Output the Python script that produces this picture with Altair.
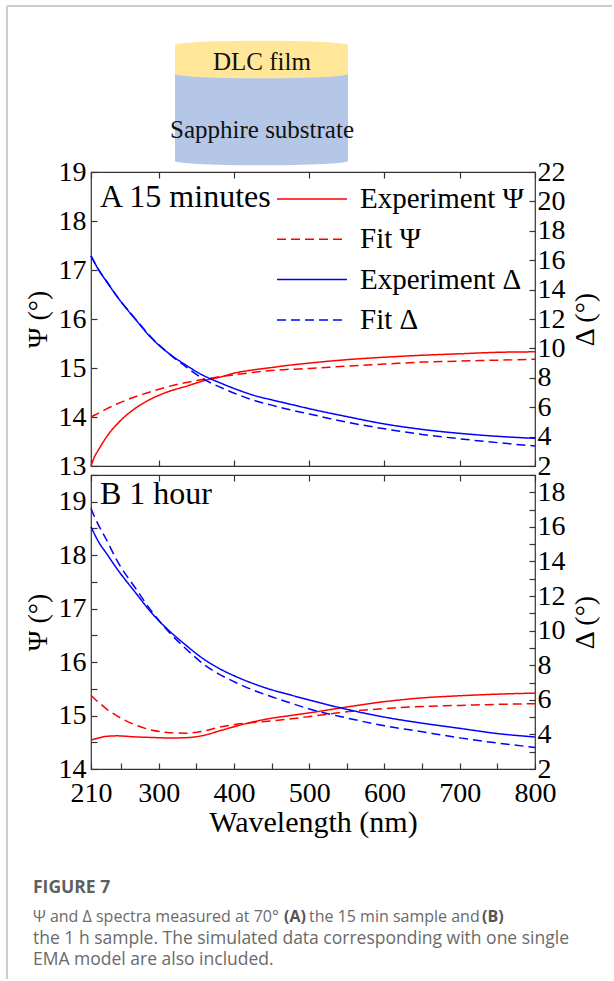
import altair as alt
import pandas as pd

# ---------------- data ----------------
WL = [210, 215, 220, 230, 245, 270, 290, 315, 335, 360, 380, 405, 425, 450,
      470, 500, 550, 600, 650, 700, 750, 800]

A_EXP_PSI = [13.00, 13.20, 13.33, 13.58, 13.86, 14.19, 14.37, 14.53, 14.62, 14.74, 14.81,
             14.91, 14.96, 15.01, 15.05, 15.10, 15.17, 15.22, 15.26, 15.29, 15.32, 15.33]
A_FIT_PSI = [14.00, 14.04, 14.08, 14.16, 14.27, 14.42, 14.52, 14.63, 14.70, 14.77, 14.82,
             14.87, 14.91, 14.95, 14.97, 14.99, 15.04, 15.08, 15.12, 15.14, 15.16, 15.18]
A_EXP_DELTA = [16.30, 15.81, 15.35, 14.60, 13.50, 11.92, 10.72, 9.60, 8.90, 8.14, 7.69,
               7.18, 6.83, 6.50, 6.26, 5.90, 5.36, 4.86, 4.49, 4.22, 4.02, 3.88]
A_FIT_DELTA = [16.30, 15.82, 15.37, 14.62, 13.52, 11.94, 10.76, 9.58, 8.80, 7.90, 7.40,
               6.86, 6.49, 6.14, 5.88, 5.54, 4.98, 4.53, 4.15, 3.85, 3.59, 3.36]

B_EXP_PSI = [14.54, 14.56, 14.58, 14.61, 14.62, 14.60, 14.59, 14.58, 14.585, 14.63, 14.71,
             14.81, 14.88, 14.95, 14.99, 15.05, 15.16, 15.26, 15.33, 15.37, 15.40, 15.42]
B_FIT_PSI = [15.38, 15.31, 15.25, 15.13, 14.99, 14.82, 14.73, 14.68, 14.67, 14.71, 14.78,
             14.84, 14.87, 14.90, 14.93, 14.98, 15.07, 15.13, 15.17, 15.19, 15.21, 15.22]
B_EXP_DELTA = [16.00, 15.55, 15.14, 14.50, 13.55, 12.15, 11.05, 9.95, 9.20, 8.35, 7.82,
               7.30, 6.95, 6.58, 6.34, 5.99, 5.45, 5.00, 4.65, 4.35, 4.05, 3.85]
B_FIT_DELTA = [17.07, 16.55, 16.10, 15.30, 14.02, 12.40, 11.15, 9.85, 9.00, 8.05, 7.49,
               6.95, 6.57, 6.18, 5.89, 5.47, 4.95, 4.50, 4.15, 3.80, 3.50, 3.25]

SERIES = ["Experiment Ψ", "Fit Ψ", "Experiment Δ", "Fit Δ"]
SERIES_QTY = ["psi", "psi", "delta", "delta"]
SERIES_COLORS = ["#ff0000", "#ff0000", "#0000ff", "#0000ff"]
SERIES_DASHES = [[1, 0], [9, 5], [1, 0], [9, 5]]

X_DOMAIN = [210, 800]
X_LABELS = [210, 300, 400, 500, 600, 700, 800]
X_TICKS_B = [210, 250, 300, 350, 400, 450, 500, 550, 600, 650, 700, 750, 800]

A_PSI_DOMAIN = [13, 19]
A_PSI_LABELS = [13, 14, 15, 16, 17, 18, 19]
A_DELTA_DOMAIN = [2, 22]
A_DELTA_LABELS = [2, 4, 6, 8, 10, 12, 14, 16, 18, 20, 22]

B_PSI_DOMAIN = [14, 19.5]
B_PSI_LABELS = [14, 15, 16, 17, 18, 19]
B_PSI_TICKS = [14, 14.5, 15, 15.5, 16, 16.5, 17, 17.5, 18, 18.5, 19, 19.5]
B_DELTA_DOMAIN = [2, 19]
B_DELTA_LABELS = [2, 4, 6, 8, 10, 12, 14, 16, 18]
B_DELTA_TICKS = [2, 3, 4, 5, 6, 7, 8, 9, 10, 11, 12, 13, 14, 15, 16, 17, 18, 19]

PANEL_LABELS = ["A 15 minutes", "B 1 hour"]
LAYER_NAMES = ["DLC film", "Sapphire substrate"]

CAPTION_TITLE = "FIGURE 7"
CAPTION_LINE1 = ["Ψ and Δ spectra measured at 70°", "(A)", "the 15 min sample and", "(B)"]
CAPTION_LINE1_BOLD = [False, True, False, True]
CAPTION_LINES = ["the 1 h sample. The simulated data corresponding with one single",
                 "EMA model are also included."]

SERIF = "Liberation Serif"
SANS = "Open Sans"
PW, PH = 444, 294
AXC = "#333333"


def long_df(series_values):
    rows = []
    for name, qty, vals in zip(SERIES, SERIES_QTY, series_values):
        for w, v in zip(WL, vals):
            rows.append({"nm": w, "value": v, "series": name, "qty": qty})
    return pd.DataFrame(rows)


def tick_axis(orient, values, offset):
    return alt.Axis(orient=orient, offset=offset, values=values, labels=False,
                    domain=False, grid=False, ticks=True, tickSize=6,
                    tickColor=AXC, tickWidth=1.2, title=None)


def make_panel(series_values, psi_dom, psi_labels, psi_ticks, d_dom, d_labels,
               d_ticks, x_bottom_ticks, label, label_y, show_legend, show_x):
    df = long_df(series_values)
    psi = df[df["qty"] == "psi"]
    dl = df[df["qty"] == "delta"]
    xs = alt.Scale(domain=X_DOMAIN, nice=False, zero=False)

    if show_legend:
        leg = alt.Legend(orient="none", legendX=185, legendY=9, title=None,
                         symbolType="stroke", symbolSize=4900, symbolStrokeWidth=1.5,
                         labelFont=SERIF, labelFontSize=29, labelColor="black",
                         labelLimit=400, labelOffset=12, clipHeight=36,
                         rowPadding=4.3, padding=0, labelBaseline="middle",
                         direction="vertical")
    else:
        leg = None
    color = alt.Color("series:N", scale=alt.Scale(domain=SERIES, range=SERIES_COLORS),
                      legend=leg)
    dash = alt.StrokeDash("series:N", scale=alt.Scale(domain=SERIES, range=SERIES_DASHES),
                          legend=leg)

    if show_x:
        x_lab = alt.Axis(orient="bottom", values=X_LABELS, ticks=False, tickSize=0,
                         domain=False, grid=False, labelPadding=10, labelFlush=False,
                         labelOverlap=False, title="Wavelength (nm)", titleFontSize=30,
                         titlePadding=0, labelFont=SERIF, labelFontSize=28,
                         titleFont=SERIF, titleFontWeight="normal")
    else:
        x_lab = None

    psi_axis = alt.Axis(orient="left", values=psi_labels, ticks=False, tickSize=0,
                        domain=False, grid=False, labelPadding=5, labelFlush=False,
                        labelOverlap=False, title="Ψ (°)", titleAngle=270,
                        titleBaseline="bottom", titlePadding=6, labelFont=SERIF,
                        labelFontSize=28, titleFont=SERIF, titleFontSize=28,
                        titleFontWeight="normal")
    d_axis = alt.Axis(orient="right", values=d_labels, ticks=False, tickSize=0,
                      domain=False, grid=False, labelPadding=2, labelFlush=False,
                      labelOverlap=False, title="Δ (°)", titleAngle=270,
                      titleBaseline="top", titlePadding=6, labelFont=SERIF,
                      labelFontSize=28, titleFont=SERIF, titleFontSize=28,
                      titleFontWeight="normal")

    psi_scale = alt.Scale(domain=psi_dom, nice=False, zero=False)
    d_scale = alt.Scale(domain=d_dom, nice=False, zero=False)

    l_psi = alt.Chart(psi).mark_line(strokeWidth=1.5, interpolate="monotone").encode(
        x=alt.X("nm:Q", scale=xs, axis=x_lab),
        y=alt.Y("value:Q", scale=psi_scale, axis=psi_axis),
        color=color, strokeDash=dash)
    l_d = alt.Chart(dl).mark_line(strokeWidth=1.5, interpolate="monotone").encode(
        x=alt.X("nm:Q", scale=xs, axis=tick_axis("bottom", X_LABELS, -PH)),
        y=alt.Y("value:Q", scale=d_scale, axis=d_axis),
        color=color, strokeDash=dash)
    t_psi = alt.Chart(psi).mark_point(opacity=0, size=1).encode(
        x=alt.X("nm:Q", scale=xs, axis=tick_axis("top", x_bottom_ticks, -PH)),
        y=alt.Y("value:Q", scale=psi_scale, axis=tick_axis("right", psi_ticks, -PW)))
    t_d = alt.Chart(dl).mark_point(opacity=0, size=1).encode(
        x=alt.X("nm:Q", scale=xs, axis=None),
        y=alt.Y("value:Q", scale=d_scale, axis=tick_axis("left", d_ticks, -PW)))
    txt = alt.Chart(pd.DataFrame({"label": [label]})).mark_text(
        align="left", baseline="alphabetic", font=SERIF, fontSize=32, color="black"
    ).encode(x=alt.value(9), y=alt.value(label_y), text="label:N")

    return alt.layer(l_psi, l_d, t_psi, t_d, txt).resolve_scale(
        y="independent").resolve_axis(x="independent", y="independent").properties(
        width=PW, height=PH, view=alt.ViewBackground(stroke=AXC, strokeWidth=1.2))


panel_a = make_panel([A_EXP_PSI, A_FIT_PSI, A_EXP_DELTA, A_FIT_DELTA],
                     A_PSI_DOMAIN, A_PSI_LABELS, A_PSI_LABELS,
                     A_DELTA_DOMAIN, A_DELTA_LABELS, A_DELTA_LABELS,
                     X_LABELS, PANEL_LABELS[0], 35, True, False)
panel_b = make_panel([B_EXP_PSI, B_FIT_PSI, B_EXP_DELTA, B_FIT_DELTA],
                     B_PSI_DOMAIN, B_PSI_LABELS, B_PSI_TICKS,
                     B_DELTA_DOMAIN, B_DELTA_LABELS, B_DELTA_TICKS,
                     X_TICKS_B, PANEL_LABELS[1], 29, False, True)

# ---------------- schematic ----------------
one = pd.DataFrame({"k": [0]})
YEL, BLU = "#ffe699", "#b4c7e7"
ELLIPSE = "M-1,0A1,0.05,0,1,1,1,0A1,0.05,0,1,1,-1,0Z"

frame_top = alt.Chart(one).mark_rule(color="#cccccc", strokeWidth=2).encode(
    x=alt.value(-84), x2=alt.value(521), y=alt.value(0))
frame_left = alt.Chart(one).mark_rule(color="#cccccc", strokeWidth=2).encode(
    x=alt.value(-84), y=alt.value(0), y2=alt.value(973))
blue_rect = alt.Chart(one).mark_rect(color=BLU).encode(
    x=alt.value(84), x2=alt.value(257), y=alt.value(68), y2=alt.value(155))
blue_bot = alt.Chart(one).mark_point(shape=ELLIPSE, filled=True, color=BLU, size=29929,
                                     opacity=1, strokeWidth=0).encode(
    x=alt.value(170.5), y=alt.value(155))
yel_rect = alt.Chart(one).mark_rect(color=YEL).encode(
    x=alt.value(84), x2=alt.value(257), y=alt.value(39), y2=alt.value(68))
yel_bot = alt.Chart(one).mark_point(shape=ELLIPSE, filled=True, color=YEL, size=29929,
                                    opacity=1, strokeWidth=0).encode(
    x=alt.value(170.5), y=alt.value(68))
yel_top = alt.Chart(one).mark_point(shape=ELLIPSE, filled=True, color=YEL, size=29929,
                                    opacity=1, strokeWidth=0).encode(
    x=alt.value(170.5), y=alt.value(39))
t1 = alt.Chart(pd.DataFrame({"t": [LAYER_NAMES[0]]})).mark_text(
    font=SERIF, fontSize=25, color="#111111", align="center", baseline="middle").encode(
    x=alt.value(171), y=alt.value(56), text="t:N")
t2 = alt.Chart(pd.DataFrame({"t": [LAYER_NAMES[1]]})).mark_text(
    font=SERIF, fontSize=25, color="#111111", align="center", baseline="middle").encode(
    x=alt.value(171), y=alt.value(124), text="t:N")

schematic = alt.layer(frame_top, frame_left, blue_rect, blue_bot, yel_rect, yel_bot,
                      yel_top, t1, t2).properties(
    width=PW, height=157, view=alt.ViewBackground(strokeOpacity=0))

# ---------------- caption ----------------
cap_layers = [alt.Chart(pd.DataFrame({"t": [CAPTION_TITLE]})).mark_text(
    font=SANS, fontSize=17.5, fontWeight="bold", color="#5f5f5f", align="left",
    baseline="alphabetic").encode(x=alt.value(-58), y=alt.value(115), text="t:N")]
seg_x = [-58, 193, 218, 391]
for seg, bold, sx in zip(CAPTION_LINE1, CAPTION_LINE1_BOLD, seg_x):
    cap_layers.append(alt.Chart(pd.DataFrame({"t": [seg]})).mark_text(
        font=SANS, fontSize=16, fontWeight="bold" if bold else "normal",
        color="#555555" if bold else "#6a6a6a", align="left",
        baseline="alphabetic").encode(x=alt.value(sx), y=alt.value(144), text="t:N"))
for i, line in enumerate(CAPTION_LINES):
    cap_layers.append(alt.Chart(pd.DataFrame({"t": [line]})).mark_text(
        font=SANS, fontSize=17.5, color="#6a6a6a", align="left",
        baseline="alphabetic").encode(x=alt.value(-58), y=alt.value(165.5 + 21.7 * i),
                                      text="t:N"))
caption = alt.layer(*cap_layers).properties(
    width=PW, height=198, view=alt.ViewBackground(strokeOpacity=0))

chart = alt.vconcat(schematic, panel_a, panel_b, caption, spacing=9, bounds="flush"
                    ).resolve_scale(color="independent", strokeDash="independent"
                    ).properties(padding={"left": 6, "top": 5, "right": 0, "bottom": 0},
                                 background="white"
                    ).configure_view(stroke=AXC, strokeWidth=1.2
                    ).configure_axis(labelFont=SERIF, labelFontSize=28, labelColor="black",
                                     titleFont=SERIF, titleFontSize=28, titleColor="black",
                                     titleFontWeight="normal", grid=False)

chart.save("out.html", embed_options={"renderer": "svg", "actions": False})
